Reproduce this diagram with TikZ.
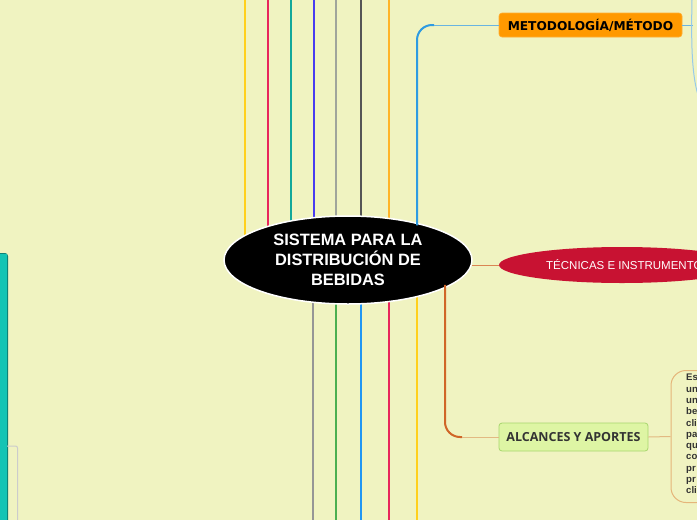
\documentclass[tikz,border=0pt]{standalone}
\usepackage{fontspec}
\setmainfont{Liberation Sans}
\newfontfamily\dejavu{DejaVu Sans}
\newfontfamily\opensans{Open Sans}
\usetikzlibrary{shapes.geometric}
\definecolor{bg}{RGB}{240,243,193}
\definecolor{cyellow}{RGB}{255,208,30}
\definecolor{ccrimson}{RGB}{232,38,92}
\definecolor{cteal}{RGB}{18,168,154}
\definecolor{cblue}{RGB}{72,60,240}
\definecolor{cgrayA}{RGB}{160,165,155}
\definecolor{cdark}{RGB}{85,85,85}
\definecolor{corange}{RGB}{255,180,40}
\definecolor{clblue}{RGB}{46,155,225}
\definecolor{clbluethin}{RGB}{105,180,225}
\definecolor{cgrayB}{RGB}{150,150,150}
\definecolor{cgreen}{RGB}{76,175,80}
\definecolor{cblueB}{RGB}{33,150,243}
\definecolor{cbrown}{RGB}{208,102,40}
\definecolor{ctan}{RGB}{226,185,130}
\definecolor{metfill}{RGB}{255,153,0}
\definecolor{tecfill}{RGB}{200,18,50}
\definecolor{alcfill}{RGB}{222,245,164}
\definecolor{alcdraw}{RGB}{168,214,110}
\definecolor{tealbox}{RGB}{20,196,180}
\definecolor{tealedge}{RGB}{14,130,120}
\definecolor{boxtan}{RGB}{229,181,122}
\definecolor{txtgray}{RGB}{51,51,51}
\tikzset{
  branch/.style={line width=2pt},
  thinlink/.style={line width=1pt},
}
\begin{document}
\begin{tikzpicture}[x=1pt,y=-1pt]
\useasboundingbox (0,0) rectangle (697,520);
\clip (0,0) rectangle (697,520);
\fill[bg] (0,0) rectangle (697,520);

\coordinate (mc) at (348,260);

% top branches
\foreach \x/\c [count=\i] in {245/cyellow,268/ccrimson,291/cteal,314/cblue,336/cgrayA,361/cdark,389/corange}{
  \coordinate (t\i) at (\x,0);
  \draw[branch,\c] (t\i) -- (t\i |- mc);
}
% bottom branches
\foreach \x/\c [count=\i] in {313/cgrayB,336/cgreen,361/cblueB,389/ccrimson,417/cyellow}{
  \coordinate (b\i) at (\x,520);
  \draw[branch,\c] (b\i) -- (b\i |- mc);
}

% left teal box and gray bracket
\fill[tealedge, rounded corners=3pt] (-10,253) rectangle (8,540);
\fill[tealbox] (-10,254) rectangle (6.5,540);
\coordinate (lg1) at (7,446);
\coordinate (lg2) at (17.5,520);
\draw[line width=1pt, black!20, rounded corners=2pt] (lg1) -- (lg1 -| lg2) -- (lg2);

% nodes
\node[rectangle, rounded corners=3pt, fill=metfill, draw=metfill!80!white, line width=0.6pt,
      minimum width=183pt, minimum height=24pt, inner sep=0pt,
      font=\dejavu\bfseries\fontsize{12.2}{14}\selectfont, text=black] (met) at (590.5,25) {METODOLOGÍA/MÉTODO};

\node[ellipse, fill=tecfill, minimum width=246pt, minimum height=36pt, inner sep=0pt] (tec) at (622,265) {};
\node[anchor=west, text=white, font=\fontsize{11.5}{13}\selectfont, inner sep=0pt] (tect) at (546,265) {TÉCNICAS E INSTRUMENTOS};

\node[rectangle, rounded corners=3pt, fill=alcfill, draw=alcdraw, line width=0.8pt,
      minimum width=149pt, minimum height=28pt, inner sep=0pt,
      font=\opensans\bfseries\fontsize{12.5}{14}\selectfont, text=txtgray] (alc) at (573.5,437) {ALCANCES Y APORTES};

\node[rectangle, rounded corners=15pt, draw=boxtan, line width=1pt, fill=bg,
      minimum width=80pt, minimum height=132pt, inner sep=0pt] (txt) at (711,436.5) {};
\node[anchor=north west, align=left, inner sep=0pt, text=txtgray,
      font=\bfseries\fontsize{9.6}{11.3}\selectfont] (txtc) at (686,374)
      {Es\\un\\un\\be\\cli\\pa\\qu\\co\\pr\\pr\\cli};

% main node
\node[ellipse, fill=black, draw=white, line width=1.5pt, minimum width=248pt, minimum height=88pt,
      inner sep=0pt, text=white, align=center,
      font=\bfseries\fontsize{16.4}{20}\selectfont] (main) at (mc) {SISTEMA PARA LA\\DISTRIBUCIÓN DE\\BEBIDAS};

% light blue branch to METODOLOGIA
\coordinate (lbx) at (417,0);
\coordinate (lbc) at (434,25);
\draw[branch, clblue, rounded corners=15pt] (lbx |- main.north) ++(0,10) -- (lbx |- met) -- (lbc);
\draw[thinlink, clbluethin] (lbc) -- (met.west);
% right of METODOLOGIA
\coordinate (mr) at (692.5,25);
\draw[thinlink, clbluethin] (met.east) -- (mr);
\coordinate (mr1) at (692,0);
\coordinate (mr2) at (698,95);
\draw[thinlink, clbluethin!70!white] (mr1) .. controls (691,45) and (692,75) .. (mr2);

% tecnicas link
\coordinate (te) at (471.5,265);
\draw[thinlink, cbrown!80!white] (te) -- (tec.west);

% alcances link
\coordinate (ox) at (445,0);
\coordinate (oc) at (462,437);
\draw[branch, cbrown, rounded corners=15pt] (ox |- main.south) ++(0,-20) -- (ox |- alc) -- (oc);
\draw[thinlink, ctan] (oc) -- (alc.west);
\draw[thinlink, ctan] (alc.east) -- (txt.west);
\end{tikzpicture}
\end{document}
